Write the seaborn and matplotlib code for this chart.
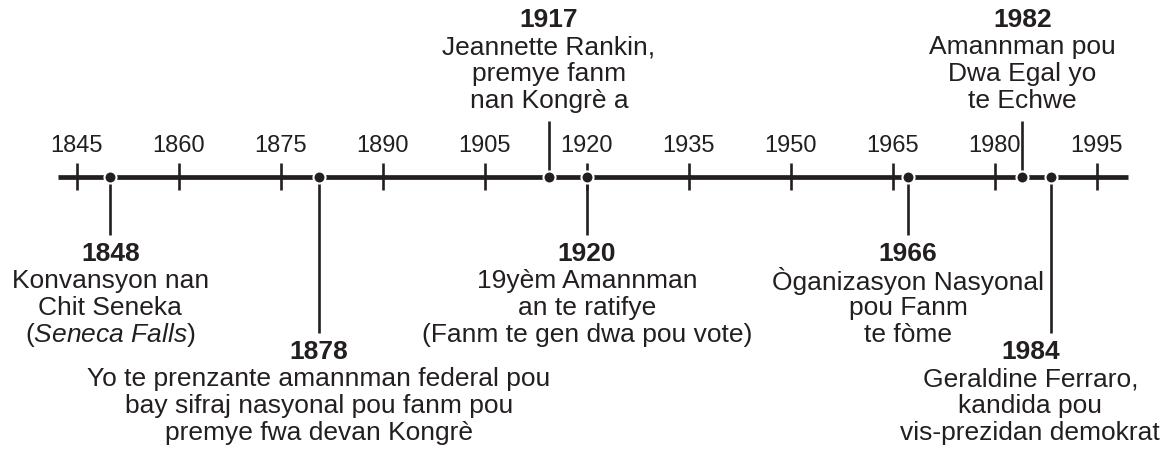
import matplotlib
matplotlib.use("Agg")
import matplotlib.pyplot as plt
import seaborn as sns
import pandas as pd

# =====================================================
# DATA
# =====================================================

tick_years = [1845, 1860, 1875, 1890, 1905, 1920, 1935, 1950, 1965, 1980, 1995]

event_years = ["1848", "1878", "1917", "1920", "1966", "1982", "1984"]

# where each dot sits on the line
event_x = [1849.9, 1880.6, 1914.4, 1920.0, 1967.2, 1984.0, 1988.2]

event_text = [
    ["Konvansyon nan", "Chit Seneka", r"($\it{Seneca\ Falls}$)"],
    ["Yo te prenzante amannman federal pou",
     "bay sifraj nasyonal pou fanm pou",
     "premye fwa devan Kongrè"],
    ["Jeannette Rankin,", "premye fanm", "nan Kongrè a"],
    ["19yèm Amannman", "an te ratifye", "(Fanm te gen dwa pou vote)"],
    ["Òganizasyon Nasyonal", "pou Fanm", "te fòme"],
    ["Amannman pou", "Dwa Egal yo", "te Echwe"],
    ["Geraldine Ferraro,", "kandida pou", "vis-prezidan demokrat"],
]

# =====================================================
# LAYOUT (pixel rows, year columns)
# =====================================================

# "short" below, "long" below, "up" above
event_side = ["short", "long", "up", "short", "short", "up", "long"]
label_x = [1849.9, 1880.6, 1914.4, 1920.0, 1967.2, 1984.0, 1985.2]

stem_end = {"short": 235, "long": 333, "up": 121}
title_y = {"short": 254, "long": 352, "up": 20}
line_gap = 27

axis_y = 177
ink = "#231f20"

sns.set_style("white")
plt.rcParams["font.family"] = ["Liberation Sans", "DejaVu Sans"]
plt.rcParams["mathtext.fontset"] = "custom"
plt.rcParams["mathtext.rm"] = "Liberation Sans"
plt.rcParams["mathtext.it"] = "Liberation Sans:italic"

fig = plt.figure(figsize=(11.65, 4.49), dpi=100)
ax = fig.add_axes([0, 0, 1, 1])
ax.set_xlim(1833.68, 2005.0)
ax.set_ylim(449, 0)
ax.axis("off")

# main line
ax.hlines(axis_y, 1842.2, 1999.6, color=ink, linewidth=3.4, zorder=2)

# ticks and year labels
ax.vlines(tick_years, 163, 190, color=ink, linewidth=1.9, zorder=2)
for yr in tick_years:
    ax.text(yr, 146, str(yr), ha="center", va="center",
            fontsize=17, color=ink)

# stems
for x, side in zip(event_x, event_side):
    ax.vlines(x, axis_y, stem_end[side], color=ink, linewidth=1.9, zorder=1)

# dots
dots = pd.DataFrame({"x": event_x, "y": [axis_y] * len(event_x)})
sns.scatterplot(data=dots, x="x", y="y", ax=ax, s=75, color=ink,
                edgecolor="white", linewidth=1.5, zorder=3, legend=False)

# event labels
for yr, lines, side, lx in zip(event_years, event_text, event_side, label_x):
    ty = title_y[side]
    ax.text(lx, ty, yr, ha="center", va="center", fontsize=19,
            fontweight="bold", color=ink)
    for i, line in enumerate(lines):
        ax.text(lx, ty + (i + 1) * line_gap, line, ha="center",
                va="center", fontsize=19, color=ink)

plt.savefig("out.png", dpi=100)
plt.close()
